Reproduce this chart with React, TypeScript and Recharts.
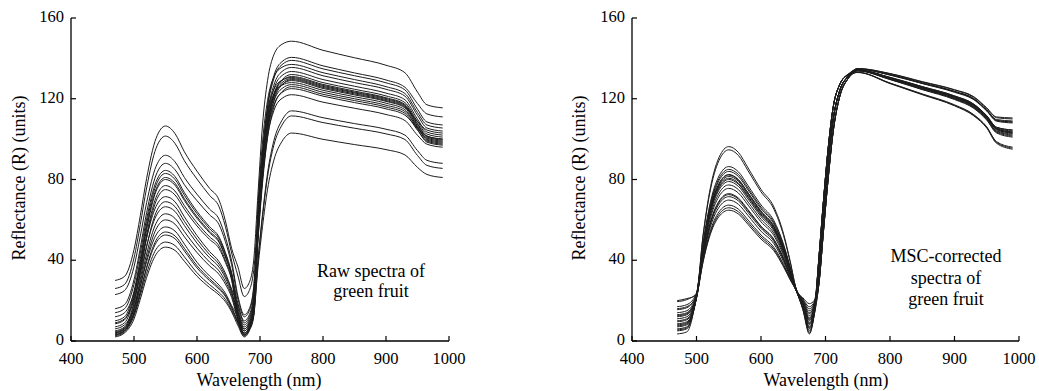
import { LineChart, Line, XAxis, YAxis } from "recharts";

const WAVELENGTHS = [
  470, 485, 500, 510, 520, 535, 550, 565, 580, 600, 620, 635, 645, 655, 665,
  675, 683, 690, 697, 704, 712, 722, 735, 750, 800, 850, 900, 930, 950, 965, 990,
];

const X_TICKS = [400, 500, 600, 700, 800, 900, 1000];
const Y_TICKS = [0, 40, 80, 120, 160];

// raw reflectance, one row per fruit sample
const RAW_SPECTRA = [
  [30, 32, 45.3, 62.1, 80.5, 100.4, 106.5, 102.8, 93.7, 84.1, 75.6, 69.8, 59.6, 45.8, 36.7, 26, 29, 40, 74, 107, 129, 141.8, 147, 148.5, 144, 140.3, 136.6, 132.9, 123.3, 117, 115.5],
  [26, 28, 41.1, 57.7, 75.8, 95.5, 101.5, 97.9, 89.3, 80.2, 72.1, 66.5, 56.8, 43.6, 32.2, 22, 25, 35, 61.8, 92.7, 116.6, 131.4, 138.4, 140.5, 136.3, 132.8, 129.3, 125.7, 117.6, 112.5, 111],
  [23, 25, 36.8, 52, 68.5, 86.5, 92, 88.8, 81, 72.7, 65.3, 60.3, 51.5, 39.6, 22.2, 13, 16, 27, 61.2, 91.7, 115.4, 130, 136.9, 139, 134.8, 131.4, 127.9, 124.4, 114.8, 108.5, 107],
  [16, 18, 30.4, 46.2, 63.5, 82.2, 88, 84.9, 77.4, 69.5, 62.5, 57.6, 49.3, 37.8, 20.8, 12, 15, 26, 68.5, 98.6, 119.2, 130.8, 135.6, 137, 132.9, 129.5, 126, 122.6, 113.2, 107, 105.5],
  [14, 16, 28.1, 43.6, 60.5, 78.9, 84.5, 81.5, 73.5, 64.2, 56.6, 51.5, 43.9, 33.8, 18.5, 10, 13, 23, 59.6, 89.4, 112.5, 126.7, 133.5, 135.5, 131.4, 128, 124.7, 121.3, 111.8, 105.5, 104],
  [10, 12, 24.6, 40.7, 58.2, 77.2, 83, 80.1, 72.2, 63.1, 55.6, 50.6, 43.2, 33.2, 16.3, 8, 11, 21, 58.7, 88.1, 110.8, 124.8, 131.5, 133.5, 129.5, 126.2, 122.8, 119.5, 109.9, 103.5, 102],
  [8.5, 10.5, 23, 39, 56.4, 75.2, 81, 78.2, 70.5, 61.6, 54.3, 49.4, 42.1, 32.4, 15.1, 7, 10, 19, 52.8, 81.8, 105.6, 121.4, 129.4, 132, 128, 124.7, 121.4, 118.1, 108.7, 102.5, 101],
  [7, 9, 21.6, 37.7, 55.2, 74.2, 80, 77.2, 69.6, 60.8, 53.6, 48.8, 41.6, 32, 14, 6, 9, 18, 57.6, 86.5, 108.7, 122.5, 129, 131, 127.1, 123.8, 120.5, 117.2, 107.7, 101.5, 100],
  [5, 7, 19.4, 35.2, 52.5, 71.2, 77, 74.3, 67, 58.5, 51.6, 47, 40, 30.8, 12.7, 5, 8, 17, 65.3, 94, 113.5, 124.6, 129.2, 130.5, 126.6, 123.3, 120.1, 116.8, 107.3, 101, 99.5],
  [4, 6, 18.2, 33.8, 50.9, 69.3, 75, 72.4, 65.3, 57, 50.3, 45.8, 39, 30, 11.5, 4, 7, 16, 57.2, 85.8, 107.9, 121.6, 128, 130, 126.1, 122.9, 119.6, 116.4, 106.5, 100, 98.5],
  [12, 14, 23.9, 37, 51.3, 66.7, 71.5, 69, 61.5, 52.2, 44.3, 39.3, 33.6, 25.7, 17.6, 9, 12, 21, 51.8, 80.3, 103.6, 119.1, 126.9, 129.5, 125.6, 122.4, 119.1, 115.9, 108.8, 104.5, 103],
  [3, 5, 16.2, 30.7, 46.6, 63.7, 69, 66.6, 59.3, 50.4, 42.8, 38, 32.4, 24.8, 11.3, 3, 6, 15, 56.8, 85.1, 107.1, 120.6, 127.1, 129, 125.1, 121.9, 118.7, 115.5, 105.9, 99.5, 98],
  [9, 11, 20.5, 33.2, 47, 61.9, 66.5, 64.2, 57.2, 48.5, 41.2, 36.6, 31.3, 23.9, 14, 6, 9, 18, 64, 92.2, 111.4, 122.2, 126.7, 128, 124.2, 121, 117.8, 114.6, 104.9, 98.5, 97],
  [4.5, 6.5, 16.2, 29.1, 43.1, 58.3, 63, 60.8, 54.2, 46, 39.1, 34.7, 29.6, 22.7, 11.6, 4, 7, 16, 55.9, 83.8, 105.4, 118.7, 125.1, 127, 123.2, 120, 116.8, 113.7, 105.6, 100.5, 99],
  [3, 5, 14.4, 26.9, 40.6, 55.4, 60, 57.9, 51.6, 43.8, 37.2, 33, 28.2, 21.6, 10.2, 3, 6, 14, 50.4, 78.1, 100.8, 115.9, 123.5, 126, 122.2, 119.1, 115.9, 112.8, 104.4, 99, 97.5],
  [6, 8, 16.1, 27.2, 39.3, 52.5, 56.5, 54.5, 48, 39, 32.2, 27.7, 23.7, 17.5, 11.8, 5, 8, 16, 55, 82.5, 103.8, 116.9, 123.1, 125, 121.3, 118.1, 115, 111.9, 105.4, 101.5, 100],
  [2.5, 4.5, 12.8, 24.1, 36.5, 49.9, 54, 52.1, 45.9, 37.3, 30.8, 26.5, 22.7, 16.7, 9, 2.5, 5.5, 13, 53.7, 80.5, 101.3, 114.1, 120.2, 122, 118.3, 115.3, 112.2, 109.2, 101.9, 97.5, 96],
  [4, 6, 13.7, 24.4, 36, 48.6, 52.5, 50.7, 44.6, 36.2, 29.9, 25.7, 22.1, 16.3, 9.8, 3.5, 6.5, 14, 41, 62.7, 83.2, 99.2, 109.4, 114, 110.6, 107.7, 104.9, 102, 94.3, 89.5, 88],
  [2, 4, 10.9, 20.7, 31.4, 42.9, 46.5, 44.9, 39.5, 32.1, 26.5, 22.8, 19.5, 14.4, 7.6, 2, 5, 12, 40.1, 61.3, 81.4, 97, 107, 111.5, 108.2, 105.4, 102.6, 99.8, 91.9, 87, 85.5],
  [3.5, 5.5, 12.6, 22.6, 33.5, 45.4, 49, 47.3, 41.7, 33.8, 27.9, 24, 20.6, 15.2, 8.9, 3, 6, 13, 37.1, 56.7, 75.2, 89.6, 98.9, 103, 99.9, 97.3, 94.8, 92.2, 86, 82.5, 81],
];

// MSC-corrected reflectance, one row per fruit sample
const MSC_SPECTRA = [
  [19.5, 20.5, 23.7, 52, 73.4, 91, 96.3, 93.4, 85.7, 75.1, 66.4, 53.1, 39.9, 25.5, 21.4, 18.5, 20.3, 35, 62, 88, 110, 124, 131, 135, 132.5, 128.5, 124.5, 121, 115.5, 111, 110.5],
  [17, 18, 23.6, 51.4, 72.3, 89.5, 94.7, 91.9, 84.3, 73.9, 65.3, 52.2, 39.4, 25.4, 20.8, 17, 19.7, 42, 70, 95, 116, 127, 132, 134.8, 132, 127.9, 123.7, 120.1, 114.5, 109.7, 109],
  [15.5, 16.5, 22.9, 47.9, 66.5, 81.8, 86.4, 83.8, 76.9, 67.4, 59.6, 47.9, 36.9, 25.2, 20, 15, 18.8, 35, 62, 88, 110, 124, 131, 134.7, 131.9, 127.7, 123.5, 119.8, 114.2, 109.3, 108.5],
  [14, 15, 22.7, 46.9, 64.8, 79.5, 84, 81.5, 74.8, 65.5, 58, 46.7, 36.2, 25.1, 19.4, 13.5, 18.1, 29, 55, 80, 104, 121, 130, 134.7, 131.7, 127.5, 123.2, 119.5, 113.9, 108.9, 108],
  [13, 14, 22.6, 46.1, 63.5, 77.8, 82.2, 79.7, 73.2, 64.1, 56.7, 45.7, 35.7, 25.1, 19, 12.5, 17.6, 35, 62, 88, 110, 124, 131, 134.2, 130.6, 126, 121.4, 117.3, 111.6, 105.9, 104.5],
  [12, 13, 22.5, 45.8, 63, 77.2, 81.5, 79.1, 72.5, 63.6, 56.2, 45.4, 35.5, 25, 18.6, 11.5, 17.2, 42, 70, 95, 116, 127, 132, 134.1, 130.3, 125.6, 120.9, 116.7, 111, 105.2, 103.5],
  [11, 12, 22.4, 45.5, 62.4, 76.4, 80.6, 78.2, 71.7, 62.9, 55.6, 44.9, 35.2, 25, 18.4, 11, 17, 29, 55, 80, 104, 121, 130, 134.2, 130.4, 125.8, 121.1, 117, 111.3, 105.5, 104],
  [10, 11, 22.3, 44.8, 61.3, 74.9, 79, 76.6, 70.3, 61.6, 54.5, 44.1, 34.7, 25, 18, 10, 16.5, 35, 62, 88, 110, 124, 131, 134, 130.1, 125.4, 120.7, 116.4, 110.7, 104.8, 103],
  [9.5, 10.5, 22.2, 44.1, 60.1, 73.3, 77.3, 75, 68.8, 60.3, 53.3, 43.2, 34.2, 24.9, 17.6, 9, 16, 42, 70, 95, 116, 127, 132, 134, 129.9, 125.1, 120.3, 116.1, 110.3, 104.2, 102.5],
  [8.5, 9.5, 22, 43.4, 58.9, 71.7, 75.6, 73.3, 67.3, 59, 52.2, 42.3, 33.7, 24.9, 17.4, 8.5, 15.8, 35, 62, 88, 110, 124, 131, 133.8, 129.6, 124.7, 119.9, 115.5, 109.7, 103.5, 101.5],
  [8, 9, 21.8, 42.3, 57.1, 69.3, 73, 70.8, 65, 56.9, 50.4, 41, 32.9, 24.8, 17.2, 8, 15.6, 29, 55, 80, 104, 121, 130, 134.2, 130.6, 126, 121.4, 117.3, 111.6, 105.9, 104.5],
  [7, 8, 21.7, 41.6, 56.1, 67.9, 71.5, 69.4, 63.6, 55.8, 49.3, 40.2, 32.5, 24.7, 16.8, 7, 15.2, 35, 62, 88, 110, 124, 131, 133.9, 129.8, 124.9, 120.1, 115.8, 110, 103.9, 102],
  [6, 7, 21.6, 40.9, 54.9, 66.3, 69.8, 67.7, 62.1, 54.4, 48.2, 39.3, 31.9, 24.7, 16.4, 6, 14.7, 42, 70, 95, 116, 127, 132, 133.8, 129.5, 124.5, 119.6, 115.2, 109.4, 103.1, 101],
  [5.5, 6.5, 21.4, 39.9, 53.1, 64, 67.3, 65.3, 59.9, 52.5, 46.4, 38, 31.2, 24.6, 16, 5, 14.3, 35, 62, 88, 110, 124, 131, 133.1, 127.8, 122.4, 117, 112.1, 106.1, 98.8, 96],
  [5, 6, 21.2, 38.8, 51.4, 61.7, 64.8, 62.9, 57.7, 50.5, 44.7, 36.7, 30.4, 24.5, 15.4, 3.5, 13.6, 29, 55, 80, 104, 121, 130, 133.1, 127.7, 122.2, 116.7, 111.8, 105.8, 98.4, 95.5],
  [16, 17, 22.4, 45.2, 62, 75.8, 80, 77.6, 71.2, 62.4, 55.2, 44.6, 35, 25, 19.6, 14, 18.3, 35, 62, 88, 110, 124, 131, 134.9, 132.4, 128.3, 124.3, 120.7, 115.2, 110.6, 110],
  [12.5, 13.5, 21.8, 42.1, 56.8, 68.8, 72.5, 70.3, 64.5, 56.6, 50, 40.7, 32.8, 24.8, 18.2, 10.5, 16.7, 42, 70, 95, 116, 127, 132, 134.7, 131.9, 127.7, 123.5, 119.8, 114.2, 109.3, 108.5],
  [3.5, 4.5, 22.6, 46.3, 63.8, 78.1, 82.5, 80, 73.4, 64.4, 56.9, 45.9, 35.8, 25.1, 15.6, 4, 13.8, 29, 55, 80, 104, 121, 130, 134.1, 130.3, 125.6, 120.9, 116.7, 111, 105.2, 103.5],
  [20, 21, 22.8, 47.3, 65.5, 80.5, 85, 82.5, 75.7, 66.3, 58.7, 47.2, 36.5, 25.2, 20.4, 16, 19.2, 35, 62, 88, 110, 124, 131, 134, 130.1, 125.4, 120.7, 116.4, 110.7, 104.8, 103],
  [7.5, 8.5, 21.3, 39.3, 52.2, 62.8, 66, 64, 58.7, 51.5, 45.5, 37.3, 30.8, 24.6, 16.6, 6.5, 14.9, 42, 70, 95, 116, 127, 132, 133, 127.5, 122, 116.5, 111.5, 105.5, 98, 95],
];

const FONT = '"Liberation Serif", "Times New Roman", serif';

function toRows(spectra: number[][]) {
  return WAVELENGTHS.map((wl, i) => {
    const row: Record<string, number> = { wl };
    spectra.forEach((s, k) => {
      row["s" + k] = s[i];
    });
    return row;
  });
}

const XTick = (props: any) => {
  const { x, y, payload } = props;
  return (
    <g>
      <line x1={x} x2={x} y1={y} y2={y - 5} stroke="#000" strokeWidth={1.2} />
      <text x={x} y={y + 22.5} textAnchor="middle" fontFamily={FONT} fontSize={16.5} fill="#000">
        {payload.value}
      </text>
    </g>
  );
};

const YTick = (props: any) => {
  const { x, y, payload } = props;
  return (
    <g>
      <line x1={x} x2={x + 5} y1={y} y2={y} stroke="#000" strokeWidth={1.2} />
      <text x={x - 7} y={y + 4} textAnchor="end" fontFamily={FONT} fontSize={16.5} fill="#000">
        {payload.value}
      </text>
    </g>
  );
};

interface PanelProps {
  spectra: number[][];
  left: number;
  width: number;
  marginLeft: number;
  marginRight: number;
}

function SpectraPanel(props: PanelProps) {
  const rows = toRows(props.spectra);
  return (
    <div style={{ position: "absolute", left: props.left, top: 0 }}>
      <LineChart
        width={props.width}
        height={391}
        data={rows}
        margin={{ top: 18, right: props.marginRight, bottom: 20, left: props.marginLeft - 60 }}
      >
        <XAxis
          type="number"
          dataKey="wl"
          domain={[400, 1000]}
          ticks={X_TICKS}
          height={30}
          tickSize={0}
          tickMargin={0}
          tickLine={false}
          tick={<XTick />}
          axisLine={{ stroke: "#000", strokeWidth: 1.3 }}
          interval={0}
        />
        <YAxis
          type="number"
          domain={[0, 160]}
          ticks={Y_TICKS}
          width={60}
          tickSize={0}
          tickMargin={0}
          tickLine={false}
          tick={<YTick />}
          axisLine={{ stroke: "#000", strokeWidth: 1.3 }}
          interval={0}
        />
        {props.spectra.map((_, k) => (
          <Line
            key={k}
            type="monotone"
            dataKey={"s" + k}
            stroke="#1c1c1c"
            strokeWidth={1}
            dot={false}
            activeDot={false}
            isAnimationActive={false}
          />
        ))}
      </LineChart>
    </div>
  );
}

export default function App() {
  const txt = { fontFamily: FONT, fontSize: 18, fill: "#000" };
  return (
    <div style={{ position: "absolute", left: 0, top: 0, width: 1039, height: 391, background: "#fff" }}>
      <SpectraPanel spectra={RAW_SPECTRA} left={0} width={470} marginLeft={71} marginRight={21} />
      <SpectraPanel spectra={MSC_SPECTRA} left={560} width={479} marginLeft={72} marginRight={20} />
      <svg
        width={1039}
        height={391}
        style={{ position: "absolute", left: 0, top: 0, pointerEvents: "none" }}
      >
        <text {...txt} textAnchor="middle" transform="translate(25,178) rotate(-90)">
          Reflectance (R) (units)
        </text>
        <text {...txt} textAnchor="middle" transform="translate(585,178) rotate(-90)">
          Reflectance (R) (units)
        </text>
        <text {...txt} x={259} y={386} textAnchor="middle">Wavelength (nm)</text>
        <text {...txt} x={826} y={386} textAnchor="middle">Wavelength (nm)</text>
        <text {...txt} x={371} y={277} textAnchor="middle">Raw spectra of</text>
        <text {...txt} x={371} y={297} textAnchor="middle">green fruit</text>
        <text {...txt} x={946} y={262} textAnchor="middle">MSC-corrected</text>
        <text {...txt} x={946} y={283.5} textAnchor="middle">spectra of</text>
        <text {...txt} x={946} y={305} textAnchor="middle">green fruit</text>
      </svg>
    </div>
  );
}
